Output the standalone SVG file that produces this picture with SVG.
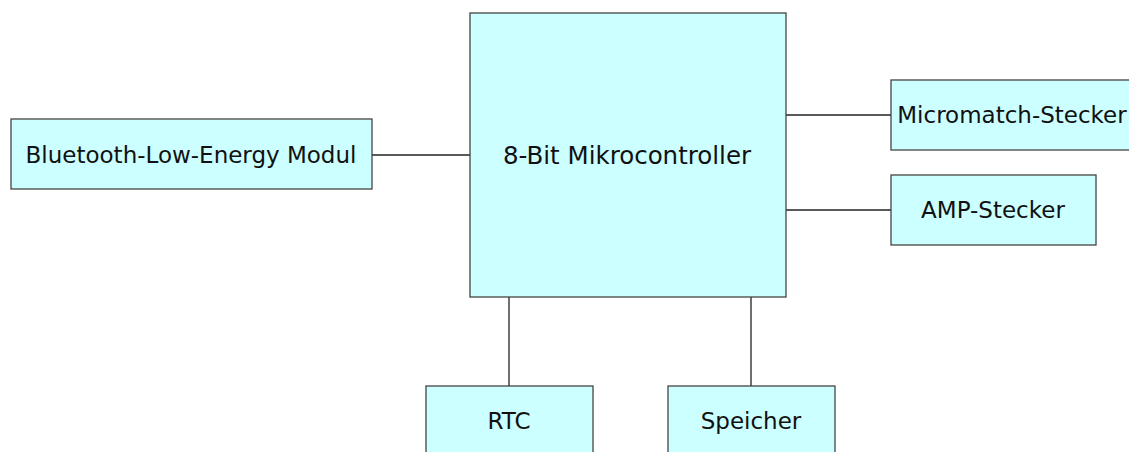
<svg xmlns="http://www.w3.org/2000/svg" width="1129" height="452" viewBox="0 0 1129 452">
<style>
.n{fill:#ccffff;stroke:#444;stroke-width:1.3}
.t{font-family:"DejaVu Sans",sans-serif;font-size:23px;fill:#111;text-anchor:middle}
.c{stroke:#222;stroke-width:1.3;fill:none}
</style>
<rect width="1129" height="452" fill="#fff"/>
<g id="connectors">
<line class="c" x1="372" y1="155" x2="470" y2="155"/>
<line class="c" x1="786" y1="115" x2="891" y2="115"/>
<line class="c" x1="786" y1="210" x2="891" y2="210"/>
<line class="c" x1="509" y1="297" x2="509" y2="386"/>
<line class="c" x1="751" y1="297" x2="751" y2="386"/>
</g>
<g id="mcu"><rect class="n" x="470" y="13" width="316" height="284"/><text class="t" x="627" y="164" style="font-size:24.5px">8-Bit Mikrocontroller</text></g>
<g id="ble"><rect class="n" x="11" y="119" width="361" height="70"/><text class="t" x="191" y="163">Bluetooth-Low-Energy Modul</text></g>
<g id="micromatch"><rect class="n" x="891" y="80" width="242" height="70"/><text class="t" x="1012" y="123">Micromatch-Stecker</text></g>
<g id="amp"><rect class="n" x="891" y="175" width="205" height="70"/><text class="t" x="993" y="218">AMP-Stecker</text></g>
<g id="rtc"><rect class="n" x="426" y="386" width="167" height="70"/><text class="t" x="509" y="429">RTC</text></g>
<g id="speicher"><rect class="n" x="668" y="386" width="167" height="70"/><text class="t" x="751" y="429">Speicher</text></g>
</svg>
